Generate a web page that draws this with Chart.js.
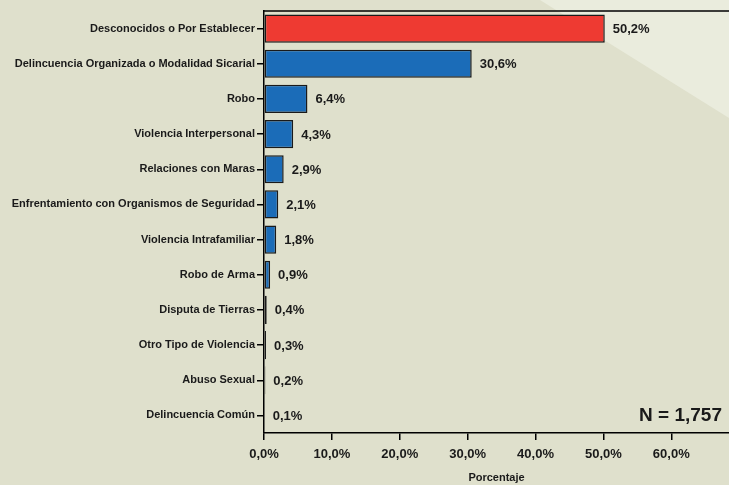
<!DOCTYPE html>
<html>
<head>
<meta charset="utf-8">
<script src="https://cdn.jsdelivr.net/npm/chart.js@4/dist/chart.umd.min.js"></script>
<style>
  html, body { margin: 0; padding: 0; background: #dfe0cc; }
  #wrap { width: 729px; height: 485px; position: relative; }
</style>
</head>
<body>
<div id="wrap"><canvas id="causas"></canvas></div>
<script>
const categorias = [
  'Desconocidos o Por Establecer',
  'Delincuencia Organizada o Modalidad Sicarial',
  'Robo',
  'Violencia Interpersonal',
  'Relaciones con Maras',
  'Enfrentamiento con Organismos de Seguridad',
  'Violencia Intrafamiliar',
  'Robo de Arma',
  'Disputa de Tierras',
  'Otro Tipo de Violencia',
  'Abuso Sexual',
  'Delincuencia Común'
];
const porcentajes = [50.2, 30.6, 6.4, 4.3, 2.9, 2.1, 1.8, 0.9, 0.4, 0.3, 0.2, 0.1];
const ticksX = [0, 10, 20, 30, 40, 50, 60];
const totalN = 'N = 1,757';

const fmt = v => v.toFixed(1).replace('.', ',') + '%';
const fuente = '"Liberation Sans", Arial, sans-serif';

const fondo = {
  id: 'fondo',
  beforeDraw(chart) {
    const c = chart.ctx;
    c.save();
    c.fillStyle = '#dfe0cc';
    c.fillRect(0, 0, chart.width, chart.height);
    c.fillStyle = '#eaecdd';
    c.beginPath();
    c.moveTo(540, 0);
    c.lineTo(chart.width, 0);
    c.lineTo(chart.width, 118);
    c.closePath();
    c.fill();
    c.restore();
  },
  afterDraw(chart) {
    const c = chart.ctx;
    const a = chart.chartArea;
    const meta = chart.getDatasetMeta(0);
    c.save();
    // borde superior
    c.strokeStyle = '#000';
    c.lineWidth = 1.5;
    c.beginPath();
    c.moveTo(a.left, a.top);
    c.lineTo(chart.width, a.top);
    c.stroke();
    // etiquetas de valor
    c.fillStyle = '#1a1a1a';
    c.font = 'bold 13px ' + fuente;
    c.textBaseline = 'middle';
    c.textAlign = 'left';
    meta.data.forEach((bar, i) => {
      c.fillText(fmt(porcentajes[i]), bar.x + 8, bar.y + 1);
    });
    // N
    c.font = 'bold 19px ' + fuente;
    c.textAlign = 'right';
    c.fillText(totalN, 722, meta.data[meta.data.length - 1].y);
    c.restore();
  }
};

new Chart(document.getElementById('causas'), {
  type: 'bar',
  data: {
    labels: categorias,
    datasets: [{
      data: porcentajes,
      backgroundColor: porcentajes.map((v, i) => i === 0 ? '#ee3a32' : '#1b6cb8'),
      borderColor: '#1a1a1a',
      borderWidth: 1.5,
      borderSkipped: false,
      barPercentage: 0.8,
      categoryPercentage: 1.0
    }]
  },
  options: {
    indexAxis: 'y',
    responsive: true,
    maintainAspectRatio: false,
    animation: false,
    layout: { padding: { top: 11, right: 0, bottom: 0, left: 0 } },
    plugins: { legend: { display: false }, tooltip: { enabled: false } },
    scales: {
      y: {
        afterFit(s) { s.width = 264; },
        grid: { offset: false, drawOnChartArea: false, drawTicks: true, tickLength: 7, color: '#000', lineWidth: 1.5 },
        border: { display: true, color: '#000', width: 1.5 },
        ticks: { color: '#1a1a1a', padding: 2, font: { family: fuente, size: 11, weight: 'bold' } }
      },
      x: {
        min: 0,
        max: 68.5,
        afterFit(s) { s.height = 52; },
        afterBuildTicks(s) { s.ticks = ticksX.map(v => ({ value: v })); },
        grid: { drawOnChartArea: false, drawTicks: true, tickLength: 7, color: '#000', lineWidth: 1.5 },
        border: { display: true, color: '#000', width: 1.5 },
        ticks: {
          color: '#1a1a1a', padding: 7,
          font: { family: fuente, size: 13, weight: 'bold' },
          callback: v => fmt(v)
        },
        title: {
          display: true, text: 'Porcentaje', color: '#1a1a1a',
          padding: { top: 4, bottom: 0 },
          font: { family: fuente, size: 11, weight: 'bold' }
        }
      }
    }
  },
  plugins: [fondo]
});
</script>
</body>
</html>
